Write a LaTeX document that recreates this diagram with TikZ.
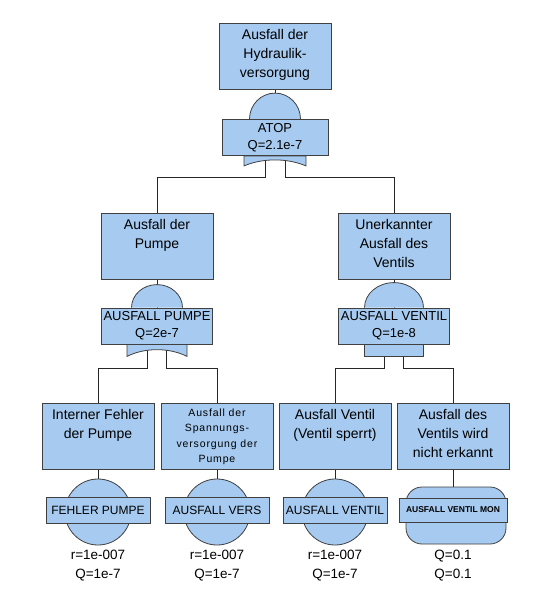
\documentclass[tikz,border=0pt]{standalone}
\usepackage{fontspec}
\setmainfont{Liberation Sans}
\usetikzlibrary{calc,positioning}
\definecolor{ftblue}{RGB}{166,202,240}
\pgfdeclarelayer{wires}
\pgfdeclarelayer{shapes}
\pgfsetlayers{wires,shapes,main}

\begin{document}
\begin{tikzpicture}[x=1pt,y=-1pt]
\tikzset{ >=latex,
  evbox/.style={draw=black!75, fill=ftblue, line width=0.8pt, minimum width=112pt, minimum height=66pt, inner sep=0pt},
  evtext/.style={anchor=north, align=center, inner sep=0pt, font=\fontsize{14}{19}\selectfont},
  smalltext/.style={anchor=north, align=center, inner sep=0pt, font=\fontsize{10.5}{15.5}\selectfont\addfontfeature{LetterSpace=8}},
  gatelbl/.style={draw=black!75, fill=ftblue, line width=0.8pt, minimum width=106pt, minimum height=36pt, inner xsep=2pt, inner ysep=0pt, align=center, font=\fontsize{13}{17}\selectfont},
  baselbl/.style={gatelbl, minimum width=104pt, minimum height=26pt, font=\fontsize{12}{14}\selectfont},
  gateshape/.style={draw=black!75, fill=ftblue, line width=0.8pt},
  wire/.style={draw=black!85, line width=0.8pt},
  prob/.style={align=center, inner sep=0pt, font=\fontsize{13.5}{19}\selectfont},
}

\useasboundingbox (0,0) rectangle (543,600);
%\draw [lightgray, dashed] (0,0) grid[step=50] (543,600);

% events
\node [evbox] (hydr)   at (275,56.5) {};
\node [evbox] (pumpe)  at (157,246) {};
\node [evbox] (ventil) at (394,246) {};
\node [evbox] (intern) at (98,436) {};
\node [evbox] (spann)  at (217,436) {};
\node [evbox] (avent)  at (335,436) {};
\node [evbox] (vmon)   at (453,436) {};

\node [evtext]    at ([yshift=-6pt]hydr.north)   {Ausfall der\\Hydraulik-\\versorgung};
\node [evtext]    at ([yshift=-7pt]pumpe.north)  {Ausfall der\\Pumpe};
\node [evtext]    at ([yshift=-7pt]ventil.north) {Unerkannter\\Ausfall des\\Ventils};
\node [evtext]    at ([yshift=-7pt]intern.north) {Interner Fehler\\der Pumpe};
\node [smalltext] at ([yshift=-6pt]spann.north)  {Ausfall der\\Spannungs-\\versorgung der\\Pumpe};
\node [evtext]    at ([yshift=-7pt]avent.north)  {Ausfall Ventil\\(Ventil sperrt)};
\node [evtext]    at ([yshift=-7pt]vmon.north)   {Ausfall des\\Ventils wird\\nicht erkannt};

% gates
\node [gatelbl] (gATOP)   at (275,137.5) {ATOP\\Q=2.1e-7};
\node [gatelbl, minimum width=108pt] (gPUMPE) at (157,326) {AUSFALL PUMPE\\Q=2e-7};
\node [gatelbl] (gVENTIL) at (394,326) {AUSFALL VENTIL\\Q=1e-8};

% basic events
\node [baselbl] (bFEHLER) at (98,510)  {FEHLER PUMPE};
\node [baselbl] (bVERS)   at (217,510) {AUSFALL VERS};
\node [baselbl] (bVENTIL) at (335,510) {AUSFALL VENTIL};
\node [baselbl, minimum width=108pt, minimum height=24pt, font=\fontsize{8.5}{10}\selectfont\bfseries] (bMON) at (453,510) {AUSFALL VENTIL MON};

\node [prob] (pFEHLER) at (98,565.5)  {r=1e-007\\Q=1e-7};
\node [prob] (pVERS)   at (217,565.5) {r=1e-007\\Q=1e-7};
\node [prob] (pVENTIL) at (335,565.5) {r=1e-007\\Q=1e-7};
\node [prob] (pMON)    at (453,565.5) {Q=0.1\\Q=0.1};

\begin{pgfonlayer}{shapes}
% and gates
\draw [gateshape] ([xshift=-25.5pt]gATOP.north) arc [start angle=180, end angle=0, x radius=25.5pt, y radius=26pt];
\draw [gateshape] ([xshift=-31pt]gATOP.south) -- ([shift={(-31,10)}]gATOP.south)
  .. controls +(19,-8) and +(-19,-8) .. ([shift={(31,10)}]gATOP.south) -- ([xshift=31pt]gATOP.south) -- cycle;
\draw [gateshape] ([xshift=-25.5pt]gPUMPE.north) arc [start angle=180, end angle=0, x radius=25.5pt, y radius=23pt];
\draw [gateshape] ([xshift=-30pt]gPUMPE.south) -- ([shift={(-30,12)}]gPUMPE.south)
  .. controls +(18,-9) and +(-18,-9) .. ([shift={(30,12)}]gPUMPE.south) -- ([xshift=30pt]gPUMPE.south) -- cycle;
% or gate
\draw [gateshape] ([xshift=-29.5pt]gVENTIL.north) arc [start angle=180, end angle=0, x radius=29.5pt, y radius=25pt];
\draw [gateshape] ([xshift=-29.5pt]gVENTIL.south) rectangle ++(59,12);
% basic events
\foreach \b in {bFEHLER,bVERS,bVENTIL}
  \draw [gateshape] ([yshift=-2pt]\b.center) circle [radius=33pt];
\draw [gateshape, rounded corners=16pt] ([shift={(-47,-23)}]bMON.center) rectangle ([shift={(53,34)}]bMON.center);
\end{pgfonlayer}

\begin{pgfonlayer}{wires}
\fill [white] (0,0) rectangle (543,600);
\draw [wire] (hydr.south)   -- (gATOP.north);
\draw [wire] (pumpe.south)  -- (gPUMPE.north);
\draw [wire] (ventil.south) -- (gVENTIL.north);

\draw [wire] ([xshift=-10pt]gATOP.south) -- ++(0,21.5) -| (pumpe.north);
\draw [wire] ([xshift=10pt]gATOP.south)  -- ++(0,21.5) -| (ventil.north);
\draw [wire] ([xshift=-9.5pt]gPUMPE.south) -- ++(0,24) -| (intern.north);
\draw [wire] ([xshift=9.5pt]gPUMPE.south)  -- ++(0,24) -| (spann.north);
\draw [wire] ([xshift=-9.5pt]gVENTIL.south) -- ++(0,24) -| (avent.north);
\draw [wire] ([xshift=9.5pt]gVENTIL.south)  -- ++(0,24) -| (vmon.north);

\draw [wire] (intern.south) -- (bFEHLER.north);
\draw [wire] (spann.south)  -- (bVERS.north);
\draw [wire] (avent.south)  -- (bVENTIL.north);
\draw [wire] (vmon.south)   -- (bMON.north);
\end{pgfonlayer}

\end{tikzpicture}
\end{document}
